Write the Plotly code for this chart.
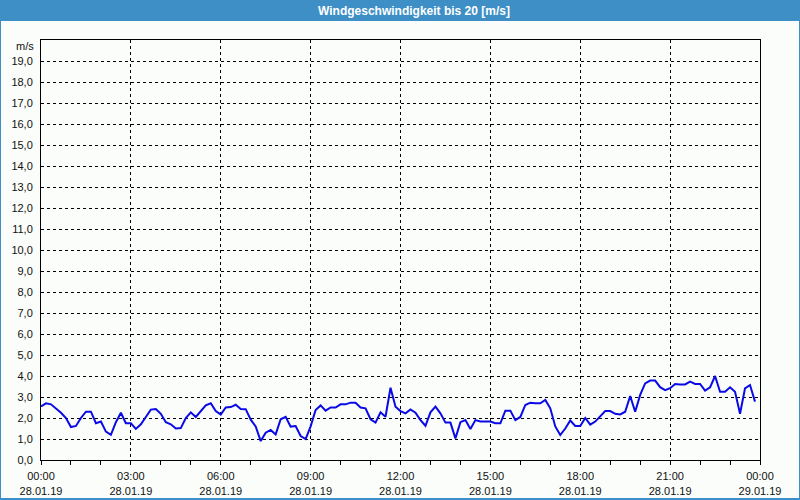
import pandas as pd
import plotly.graph_objects as go

# ---- data (10-minute samples, 28.01.19 00:00 .. 23:50) ----
start_time = "2019-01-28 00:00"
end_time = "2019-01-29 00:00"
wind_speed = [
    2.55, 2.70, 2.65, 2.45, 2.25, 2.00, 1.57, 1.62, 2.00, 2.30,
    2.30, 1.75, 1.83, 1.35, 1.20, 1.80, 2.25, 1.75, 1.75, 1.48,
    1.70, 2.05, 2.40, 2.43, 2.20, 1.80, 1.70, 1.50, 1.52, 2.00,
    2.27, 2.05, 2.35, 2.60, 2.70, 2.33, 2.16, 2.50, 2.52, 2.63,
    2.43, 2.42, 1.92, 1.60, 0.90, 1.30, 1.43, 1.22, 1.94, 2.06,
    1.59, 1.62, 1.14, 1.00, 1.60, 2.38, 2.60, 2.35, 2.50, 2.50,
    2.65, 2.65, 2.73, 2.73, 2.50, 2.46, 1.94, 1.78, 2.27, 2.06,
    3.44, 2.54, 2.33, 2.22, 2.41, 2.25, 1.90, 1.63, 2.27, 2.54,
    2.22, 1.78, 1.78, 1.03, 1.80, 1.90, 1.48, 1.90, 1.83, 1.83,
    1.83, 1.75, 1.75, 2.35, 2.35, 1.90, 2.05, 2.62, 2.73, 2.70,
    2.70, 2.86, 2.46, 1.60, 1.19, 1.50, 1.88, 1.62, 1.62, 2.00,
    1.68, 1.83, 2.06, 2.33, 2.33, 2.20, 2.17, 2.30, 3.05, 2.30,
    3.10, 3.65, 3.78, 3.78, 3.47, 3.33, 3.42, 3.62, 3.60, 3.60,
    3.73, 3.62, 3.62, 3.30, 3.46, 4.00, 3.25, 3.25, 3.46, 3.25,
    2.20, 3.41, 3.57, 2.78,
]
x_tick_times = ["2019-01-28 00:00", "2019-01-28 03:00", "2019-01-28 06:00",
                "2019-01-28 09:00", "2019-01-28 12:00", "2019-01-28 15:00",
                "2019-01-28 18:00", "2019-01-28 21:00", "2019-01-29 00:00"]
x_tick_labels = ["00:00<br>28.01.19", "03:00<br>28.01.19", "06:00<br>28.01.19",
                 "09:00<br>28.01.19", "12:00<br>28.01.19", "15:00<br>28.01.19",
                 "18:00<br>28.01.19", "21:00<br>28.01.19", "00:00<br>29.01.19"]
y_tick_values = list(range(0, 20))
y_tick_labels = ["0,0", "1,0", "2,0", "3,0", "4,0", "5,0", "6,0", "7,0", "8,0", "9,0",
                 "10,0", "11,0", "12,0", "13,0", "14,0", "15,0", "16,0", "17,0", "18,0", "19,0"]
title_text = "Windgeschwindigkeit bis 20 [m/s]"
unit_text = "m/s"

times = pd.date_range(start_time, periods=len(wind_speed), freq="10min")

# ---- layout geometry ----
W, H = 800, 500
ML, MR, MT, MB = 41, 40, 40, 40
PW, PH = W - ML - MR, H - MT - MB

def px(x):
    return (x - ML) / PW

def py(y):
    return 1 - (y - MT) / PH

BG = "#FAFDFA"
BLUE = "#3D8FC6"
FONT = "Liberation Sans"

fig = go.Figure()
fig.add_trace(go.Scatter(
    x=times, y=wind_speed, mode="lines",
    line=dict(color="#0A0AE6", width=2),
    hoverinfo="skip", showlegend=False,
))

shapes = [
    # title bar
    dict(type="rect", xref="paper", yref="paper", x0=px(0), x1=px(W), y0=py(0), y1=py(21),
         fillcolor=BLUE, line=dict(width=0), layer="below"),
    # window border left / right / bottom
    dict(type="rect", xref="paper", yref="paper", x0=px(0), x1=px(1), y0=py(0), y1=py(H),
         fillcolor=BLUE, line=dict(width=0)),
    dict(type="rect", xref="paper", yref="paper", x0=px(W - 1), x1=px(W), y0=py(0), y1=py(H),
         fillcolor=BLUE, line=dict(width=0)),
    dict(type="rect", xref="paper", yref="paper", x0=px(0), x1=px(W), y0=py(H - 2), y1=py(H),
         fillcolor=BLUE, line=dict(width=0)),
]

annotations = [
    dict(text="<b>" + title_text + "</b>", xref="paper", yref="paper",
         x=px(414), y=py(10.5), xanchor="center", yanchor="middle", showarrow=False,
         font=dict(family=FONT, size=12, color="white")),
    dict(text=unit_text, xref="paper", yref="paper",
         x=px(36), y=py(46), xanchor="right", yanchor="middle", showarrow=False,
         font=dict(family=FONT, size=11, color="#111111")),
]

fig.update_layout(
    width=W, height=H,
    margin=dict(l=ML, r=MR, t=MT, b=MB, pad=0, autoexpand=False),
    paper_bgcolor=BG, plot_bgcolor=BG,
    shapes=shapes, annotations=annotations,
    font=dict(family=FONT, size=11, color="#111111"),
    xaxis=dict(
        type="date", range=[start_time, end_time],
        tickmode="array", tickvals=x_tick_times, ticktext=x_tick_labels,
        showgrid=True, gridcolor="black", gridwidth=1, griddash="3px,3px",
        showline=True, linecolor="black", linewidth=1, mirror=True,
        ticks="", zeroline=False, automargin=False,
        minor=dict(dtick=3600000, ticks="outside", ticklen=4, tickcolor="black",
                   showgrid=False),
        ticklabelstandoff=6,
        fixedrange=True,
    ),
    yaxis=dict(
        range=[0, 20], tickmode="array", tickvals=y_tick_values, ticktext=y_tick_labels,
        showgrid=True, gridcolor="black", gridwidth=1, griddash="3px,3px",
        showline=True, linecolor="black", linewidth=1, mirror=True,
        ticks="", zeroline=False, ticklabelstandoff=5, automargin=False,
        fixedrange=True,
    ),
)

fig.write_html("out.html")
